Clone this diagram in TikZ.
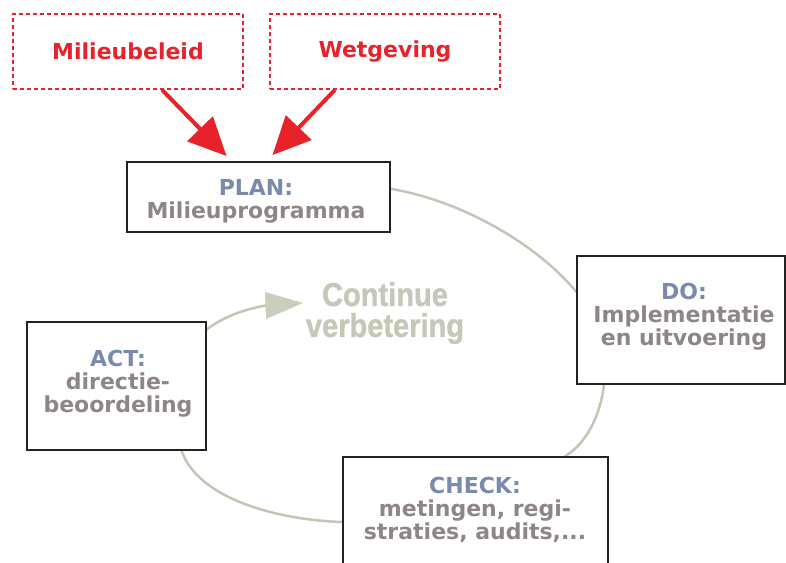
\documentclass[tikz,border=0pt]{standalone}
\usepackage{fontspec}
\usepackage{graphicx}
\usetikzlibrary{arrows.meta}
\newfontfamily\pixfont{DejaVu Sans}
\newfontfamily\condfont{Liberation Sans}[BoldFeatures={FakeBold=1.2}]
\definecolor{redc}{HTML}{E8222A}
\definecolor{titleblue}{HTML}{7A8AAC}
\definecolor{txtgray}{HTML}{8E8686}
\definecolor{cyclegray}{HTML}{C3C6B6}
\definecolor{cvgray}{HTML}{C6C7B7}
\definecolor{arrowgreen}{HTML}{C8CFBC}
\definecolor{boxline}{HTML}{222222}
\tikzset{
  srcbox/.style={draw=redc, line width=1.6pt, dash pattern=on 4pt off 3pt,
    text=redc, font=\pixfont\bfseries\fontsize{22}{23}\selectfont,
    minimum width=230pt, minimum height=75pt, inner sep=0pt},
  pdcabox/.style={draw=boxline, line width=2pt, fill=white, inner sep=0pt},
  pdcatext/.style={text=txtgray, align=center, inner sep=0pt,
    font=\pixfont\bfseries\fontsize{22}{23}\selectfont},
  redarrow/.style={draw=redc, line width=4pt,
    -{Triangle[length=38pt,width=35pt,fill=redc]}},
  cycleline/.style={draw=cyclegray, line width=2.5pt}
}
\begin{document}
\begin{tikzpicture}[x=1pt,y=-1pt]
\useasboundingbox (0,0) rectangle (786,562);
% cycle curve (drawn first, boxes cover it)
\draw[cycleline] (385,188) .. controls (470,200) and (565,260) .. (595,320)
  .. controls (615,360) and (605,430) .. (567,455)
  .. controls (530,485) and (420,525) .. (342,522)
  .. controls (280,520) and (200,500) .. (182,452)
  .. controls (170,420) and (165,380) .. (185,350)
  .. controls (210,320) and (240,310) .. (268,305);
\fill[arrowgreen] (265,292) -- (303,303) -- (266,319) -- cycle;
\node[text=cvgray, align=center, inner sep=0pt,
  font=\condfont\bfseries\fontsize{33}{31}\selectfont] (cv) at (385,313)
  {\scalebox{0.88}[1]{Continue}\\\scalebox{0.88}[1]{verbetering}};
% source boxes
\node[srcbox] (mb) at (128,51.5) {Milieubeleid};
\node[srcbox] (wt) at (385,51.5) {Wetgeving};
% PDCA boxes
\node[pdcabox, minimum width=263pt, minimum height=70pt] (plan) at (258.5,197) {};
\node[pdcatext] (plantext) at (256,201) {{\color{titleblue}PLAN:}\\Milieuprogramma};
\node[pdcabox, minimum width=208pt, minimum height=128pt] (do) at (681,320) {};
\node[pdcatext] (dotext) at (684,317) {{\color{titleblue}DO:}\\Implementatie\\en uitvoering};
\node[pdcabox, minimum width=179pt, minimum height=128pt] (act) at (116.5,386) {};
\node[pdcatext] (acttext) at (118,384) {{\color{titleblue}ACT:}\\directie-\\beoordeling};
\node[pdcabox, minimum width=265pt, minimum height=112pt] (check) at (475.5,513) {};
\node[pdcatext] (checktext) at (475,510) {{\color{titleblue}CHECK:}\\metingen, regi-\\straties, audits,...};
% red arrows
\draw[redarrow] ([xshift=34pt]mb.south) -- ([xshift=-32pt,yshift=5pt]plan.north);
\draw[redarrow] ([xshift=-50pt]wt.south) -- ([xshift=14pt,yshift=6pt]plan.north);
\end{tikzpicture}
\end{document}
